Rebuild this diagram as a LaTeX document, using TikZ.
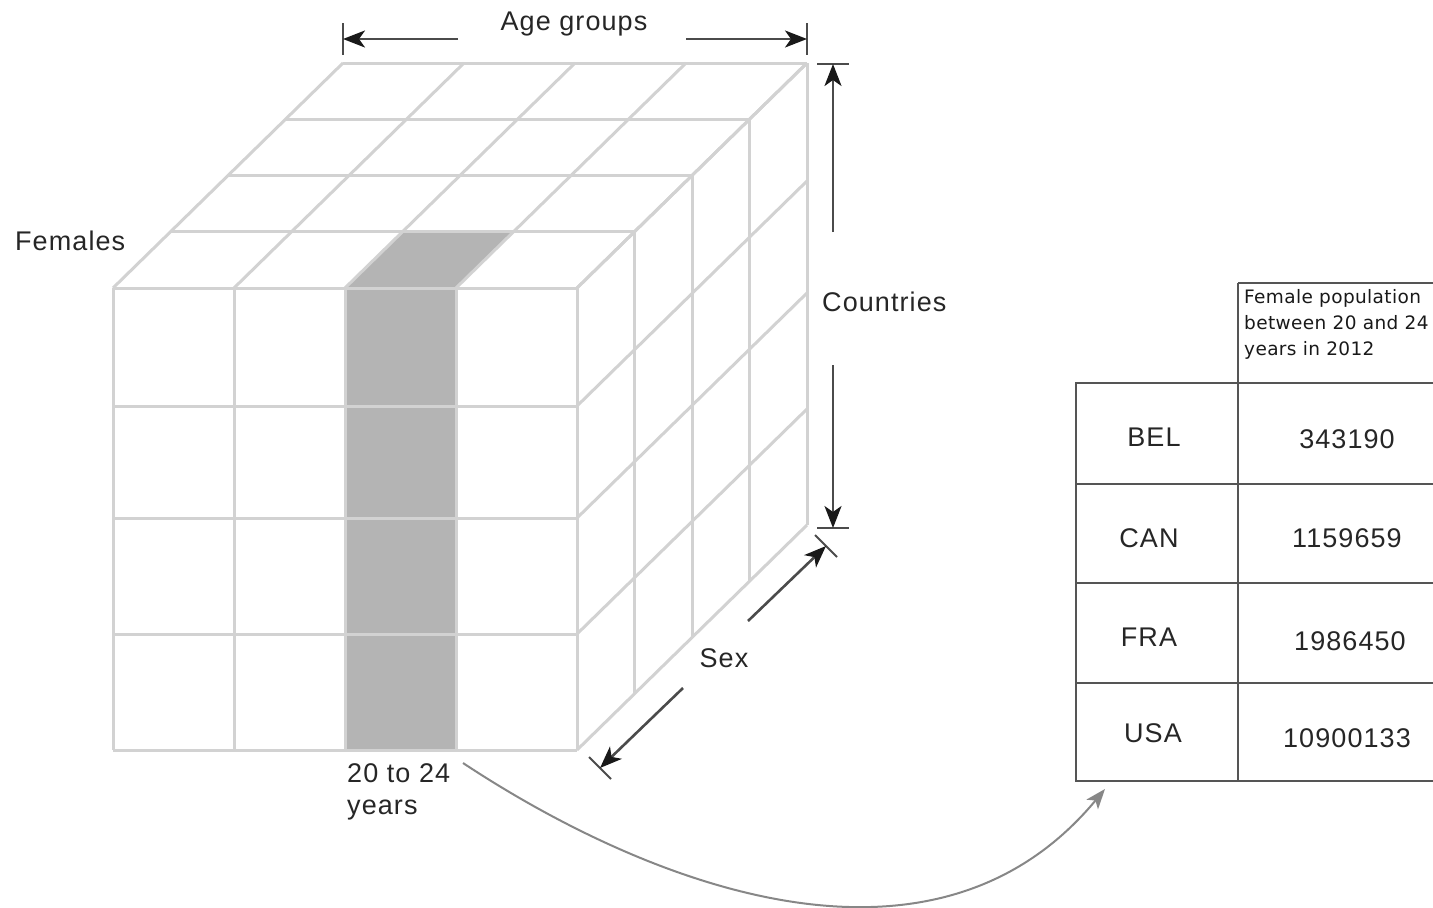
\documentclass[tikz,border=0pt]{standalone}
\usepackage{fontspec}
\setmainfont{Liberation Sans}[LetterSpace=4]
\newfontfamily\hdrfont{DejaVu Sans}[LetterSpace=2]
\usetikzlibrary{arrows.meta}
\definecolor{gridc}{RGB}{210,210,210}
\definecolor{shadec}{RGB}{180,180,180}
\definecolor{arrc}{RGB}{75,75,75}
\definecolor{tblc}{RGB}{85,85,85}
\definecolor{curvc}{RGB}{135,135,135}
\begin{document}
\begin{tikzpicture}[x=1pt,y=-1pt,
  gridline/.style={draw=gridc,line width=3pt},
  dimarrow/.style={draw=arrc,line width=2.6pt,-{Stealth[length=22pt,width=17pt,inset=6pt,color=black!90]}},
  tickline/.style={draw=arrc,line width=2pt},
  lbl/.style={font=\fontsize{27}{32}\selectfont,text=black!85,inner sep=0pt},
  tbl/.style={draw=tblc,line width=2.8pt},
  cell/.style={font=\fontsize{27}{32}\selectfont,text=black!85,inner sep=0pt},
  hdr/.style={font=\hdrfont\fontsize{18.5}{26}\selectfont,text=black!90,inner sep=0pt,align=left}]
\useasboundingbox (0,0) rectangle (1433,908);
% shaded column
\fill[shadec] (345,288) rectangle (456,750);
\fill[shadec] (345,288) -- (456,288) -- (513.5,231.75) -- (402.5,231.75) -- cycle;
% front face
\foreach \x in {113,234,345,456,577} \draw[gridline] (\x,288) -- (\x,750);
\foreach \y in {288,406,518,634,750} \draw[gridline] (113,\y) -- (577,\y);
% top face
\foreach \d in {0,1,2,3,4} \draw[gridline] (113+57.5*\d,288-56.25*\d) -- (577+57.5*\d,288-56.25*\d);
\foreach \x in {113,234,345,456,577} \draw[gridline] (\x,288) -- (\x+230,63);
% right face
\foreach \d in {0,1,2,3,4} \draw[gridline] (577+57.5*\d,288-56.25*\d) -- (577+57.5*\d,750-56.25*\d);
\foreach \y in {288,406,518,634,750} \draw[gridline] (577,\y) -- (807,\y-225);
% Age groups
\node[lbl] (age) at (574,24) {Age groups};
\coordinate (ageL) at (343,39);
\coordinate (ageR) at (807,39);
\coordinate (ageLs) at (458,39);
\coordinate (ageRs) at (686,39);
\draw[tickline] (343,23) -- (343,55);
\draw[tickline] (807,23) -- (807,55);
\draw[dimarrow] (ageLs) -- (ageL);
\draw[dimarrow] (ageRs) -- (ageR);
% Countries
\node[lbl,anchor=west] (ctry) at (822,302) {Countries};
\coordinate (cT) at (833,64);
\coordinate (cB) at (833,528);
\coordinate (cTs) at (833,232);
\coordinate (cBs) at (833,365);
\draw[tickline] (817,64) -- (849,64);
\draw[tickline] (817,528) -- (849,528);
\draw[dimarrow] (cTs) -- (cT);
\draw[dimarrow] (cBs) -- (cB);
% Sex
\node[lbl] (sex) at (724,658) {Sex};
\coordinate (sT) at (826,546);
\coordinate (sB) at (600,768);
\coordinate (sTs) at (748,621);
\coordinate (sBs) at (683,688);
\draw[tickline] (815,535) -- (837,557);
\draw[tickline] (589,757) -- (611,779);
\draw[dimarrow] (sTs) -- (sT);
\draw[dimarrow] (sBs) -- (sB);
% Females
\node[lbl,anchor=west] (fem) at (15,241) {Females};
% 20 to 24 years
\node[lbl,anchor=north west,align=left,font=\fontsize{27}{32}\selectfont] (yrs) at (347,763) {20 to 24\\years};
% table
\draw[tbl] (1076,383) rectangle (1238,781);
\draw[tbl] (1238,283) -- (1238,781);
\draw[tbl] (1238,283) -- (1433,283);
\foreach \y in {383,484,583,683,781} \draw[tbl] (1076,\y) -- (1433,\y);
\node[hdr,anchor=north west] (hd) at (1244,289) {Female population\\between 20 and 24\\years in 2012};
\node[cell] (bel) at (1154,437) {BEL};
\node[cell] (can) at (1149,538) {CAN};
\node[cell] (fra) at (1149,637) {FRA};
\node[cell] (usa) at (1153,733) {USA};
\node[cell] (v1) at (1347,439) {343190};
\node[cell] (v2) at (1347,538) {1159659};
\node[cell] (v3) at (1350,641) {1986450};
\node[cell] (v4) at (1347,738) {10900133};
% curve
\coordinate (cs) at (463,763);
\coordinate (ce) at (1105,789);
\draw[draw=curvc,line width=2pt,-{Stealth[length=20pt,width=15pt,inset=5pt]}] (cs) .. controls (640,880) and (930,1000) .. (ce);
\end{tikzpicture}
\end{document}
